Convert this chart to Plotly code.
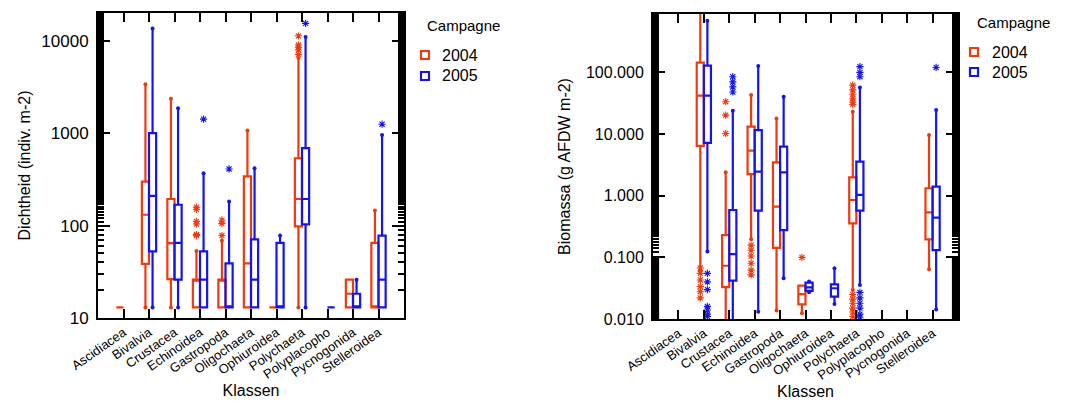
import plotly.graph_objects as go

classes = ["Ascidiacea", "Bivalvia", "Crustacea", "Echinoidea", "Gastropoda", "Oligochaeta",
           "Ophiuroidea", "Polychaeta", "Polyplacopho", "Pycnogonida", "Stelleroidea"]
years = ["2004", "2005"]
legend_title = "Campagne"

# ---- Dichtheid (indiv. m-2) ----
dens_2004_lo = [13, 13, 13, 13, 13, 13, 13, 13, None, 13, 13]
dens_2004_q1 = [13, 38.6, 26.4, 13, 13, 13, 13, 98, None, 13, 13]
dens_2004_med = [13, 131, 64.6, 26, 26, 39, 13, 194, None, 18.3, 13]
dens_2004_q3 = [13, 299, 194, 26, 26, 340, 13, 535, None, 26, 65]
dens_2004_hi = [13, 3390, 2350, 53, 69, 1065, 13, 6500, None, 26, 146]

dens_2005_lo = [None, 13, 13, 13, 13, 13, 13, 13, 13, 13, 13]
dens_2005_q1 = [None, 52.6, 26, 13, 13, 13, 13, 103, 13, 13, 13]
dens_2005_med = [None, 210, 65, 26, 13, 26, 13, 194, 13, 13, 26]
dens_2005_q3 = [None, 1000, 168, 52.6, 39, 71, 65, 687, 13, 18.3, 78]
dens_2005_hi = [None, 13600, 1860, 368, 182, 418, 78, 11000, 13, 26, 955]

dens_2004_out = {"Echinoidea": [158, 150, 111, 104, 80, 78],
                 "Gastropoda": [115, 105, 78],
                 "Polychaeta": [11300, 8980, 8500, 7930, 7110]}
dens_2005_out = {"Echinoidea": [1420], "Gastropoda": [410],
                 "Polychaeta": [15400], "Stelleroidea": [1250]}

# ---- Biomassa (g AFDW m-2) ----
bio_2004_lo = [None, 0.061, 0.008, 0.196, 0.0137, 0.0124, None, 0.0295, None, None, 0.0638]
bio_2004_q1 = [None, 6.4, 0.033, 2.24, 0.142, 0.0173, None, 0.356, None, None, 0.196]
bio_2004_med = [None, 41.9, 0.073, 5.37, 0.664, 0.0254, None, 0.851, None, None, 0.537]
bio_2004_q3 = [None, 143.6, 0.23, 13.2, 3.47, 0.0347, None, 1.98, None, None, 1.32]
bio_2004_hi = [None, 1200, 2.39, 42.9, 17.9, 0.0347, None, 23, None, None, 9.64]

bio_2005_lo = [None, 0.124, 0.008, 0.0131, 0.0457, 0.0271, 0.0175, 0.0356, None, None, 0.0143]
bio_2005_q1 = [None, 7.2, 0.042, 0.571, 0.277, 0.0285, 0.023, 0.571, None, None, 0.131]
bio_2005_med = [None, 41.9, 0.113, 2.45, 2.39, 0.0326, 0.0315, 1.03, None, None, 0.44]
bio_2005_q3 = [None, 128, 0.586, 11.6, 6.24, 0.0389, 0.0365, 3.56, None, None, 1.4]
bio_2005_hi = [None, 689, 23.9, 127, 40.3, 0.0405, 0.0664, 57, None, None, 24.5]

bio_2004_out = {"Bivalvia": [0.067, 0.055, 0.043, 0.0335, 0.0277, 0.022],
                "Crustacea": [33.4, 20.2, 10.2],
                "Echinoidea": [0.158, 0.13, 0.105, 0.08, 0.062, 0.052],
                "Oligochaeta": [0.1],
                "Polychaeta": [62, 52, 44, 38, 33, 30, 0.025, 0.021, 0.018, 0.015, 0.013, 0.011]}
bio_2005_out = {"Bivalvia": [0.055, 0.04, 0.03, 0.016, 0.014, 0.012, 0.011],
                "Crustacea": [85, 70, 58, 48],
                "Polychaeta": [124, 100, 85, 0.027, 0.022, 0.018, 0.015, 0.012, 0.0105],
                "Stelleroidea": [120]}

RED = "#EE3A0C"
BLUE = "#1414EE"
colors = {"2004": RED, "2005": BLUE}
offsets = {"2004": -0.14, "2005": 0.14}
FONT = "Liberation Sans, Arial, sans-serif"

W, H = 1065, 401


def px(x):
    return x / W


def py(y):
    return 1 - y / H


fig = go.Figure()


def add_panel(stats, outliers, xa, ya):
    for yr in years:
        lo, q1, med, q3, hi = stats[yr]
        idx = [i for i in range(len(classes)) if q1[i] is not None]
        xs = [i + offsets[yr] for i in idx]
        col = colors[yr]
        fig.add_trace(go.Box(
            x=xs, q1=[q1[i] for i in idx], median=[med[i] for i in idx],
            q3=[q3[i] for i in idx], lowerfence=[lo[i] for i in idx],
            upperfence=[hi[i] for i in idx], width=0.28, whiskerwidth=0,
            orientation="v", boxpoints=False,
            line=dict(color=col, width=2.2), fillcolor="rgba(255,255,255,0)",
            name=yr, xaxis=xa, yaxis=ya, showlegend=False, hoverinfo="skip"))
        # whisker end dots
        dx, dy = [], []
        for i in idx:
            if lo[i] < q1[i]:
                dx.append(i + offsets[yr]); dy.append(lo[i])
            if hi[i] > q3[i]:
                dx.append(i + offsets[yr]); dy.append(hi[i])
        fig.add_trace(go.Scatter(x=dx, y=dy, mode="markers", xaxis=xa, yaxis=ya,
                                 marker=dict(color=col, size=4), showlegend=False,
                                 hoverinfo="skip"))
        ox, oy = [], []
        for cls, vals in outliers[yr].items():
            i = classes.index(cls)
            for v in vals:
                ox.append(i + offsets[yr]); oy.append(v)
        fig.add_trace(go.Scatter(x=ox, y=oy, mode="markers", xaxis=xa, yaxis=ya,
                                 marker=dict(symbol="asterisk-open", size=6, color=col,
                                             line=dict(color=col, width=1.1)),
                                 showlegend=False, hoverinfo="skip"))


add_panel({"2004": (dens_2004_lo, dens_2004_q1, dens_2004_med, dens_2004_q3, dens_2004_hi),
           "2005": (dens_2005_lo, dens_2005_q1, dens_2005_med, dens_2005_q3, dens_2005_hi)},
          {"2004": dens_2004_out, "2005": dens_2005_out}, "x", "y")
add_panel({"2004": (bio_2004_lo, bio_2004_q1, bio_2004_med, bio_2004_q3, bio_2004_hi),
           "2005": (bio_2005_lo, bio_2005_q1, bio_2005_med, bio_2005_q3, bio_2005_hi)},
          {"2004": bio_2004_out, "2005": bio_2005_out}, "x2", "y2")

xaxis_common = dict(
    tickmode="array", tickvals=list(range(len(classes))), ticktext=classes,
    range=[-1, 11], tickangle=-35, ticks="inside", ticklen=9, tickwidth=2,
    tickcolor="black", showline=True, linewidth=2, linecolor="black", mirror="ticks",
    showgrid=False, zeroline=False, automargin=False,
    tickfont=dict(family=FONT, size=13, color="black"),
    title=dict(text="Klassen", font=dict(family=FONT, size=16, color="black"), standoff=4),
)
yaxis_common = dict(
    type="log", ticks="inside", ticklen=12, tickwidth=2, tickcolor="black",
    showline=True, linewidth=2, linecolor="black", mirror="ticks", showgrid=False,
    zeroline=False, ticklabelstandoff=4, automargin=False,
    minor=dict(ticks="inside", ticklen=6, tickwidth=2, tickcolor="black", showgrid=False),
)

# manual legends (title, outlined squares, labels)
annotations = []
shapes = []
legend_specs = [  # (title_x, title_y, icon_x, text_x, first_item_y, step)
    (425, 25, 420, 440, 55, 21),
    (975, 22, 969, 990, 52, 20),
]
for tx, ty, ix, txt_x, y0, step in legend_specs:
    annotations.append(dict(text=legend_title, x=px(tx), y=py(ty), xref="paper", yref="paper",
                            xanchor="left", yanchor="middle", showarrow=False,
                            font=dict(family=FONT, size=15, color="black")))
    for k, yr in enumerate(years):
        yc = y0 + k * step
        shapes.append(dict(type="rect", xref="paper", yref="paper",
                           x0=px(ix + 1), x1=px(ix + 9), y0=py(yc + 4), y1=py(yc - 4),
                           line=dict(color=colors[yr], width=2.2), fillcolor="white"))
        annotations.append(dict(text=yr, x=px(txt_x), y=py(yc), xref="paper", yref="paper",
                                xanchor="left", yanchor="middle", showarrow=False,
                                font=dict(family=FONT, size=16, color="black")))

# dense tick artefact on the biomass y axis below 0.1
shapes += [
    dict(type="rect", xref="x2 domain", yref="y2", x0=0, x1=0.02, y0=0.01, y1=0.1,
         fillcolor="black", line=dict(width=0), layer="above"),
    dict(type="rect", xref="x2 domain", yref="y2", x0=0.98, x1=1, y0=0.01, y1=0.1,
         fillcolor="black", line=dict(width=0), layer="above"),
]

fig.update_layout(
    width=W, height=H, margin=dict(l=0, r=0, t=0, b=0, autoexpand=False),
    paper_bgcolor="white", plot_bgcolor="white", showlegend=False,
    font=dict(family=FONT, color="black"),
    xaxis=dict(domain=[px(98), px(404)], anchor="y", **xaxis_common),
    xaxis2=dict(domain=[px(653), px(958)], anchor="y2", **xaxis_common),
    yaxis=dict(domain=[py(318), py(13)], anchor="x", range=[1, 4.3],
               tickvals=[10, 100, 1000, 10000], ticktext=["10", "100", "1000", "10000"],
               tickfont=dict(family=FONT, size=17, color="black"),
               title=dict(text="Dichtheid (indiv. m-2)",
                          font=dict(family=FONT, size=16, color="black"), standoff=7),
               **yaxis_common),
    yaxis2=dict(domain=[py(319), py(14)], anchor="x2", range=[-2, 2.946],
                tickvals=[0.01, 0.1, 1, 10, 100],
                ticktext=["0.010", "0.100", "1.000", "10.000", "100.000"],
                tickfont=dict(family=FONT, size=16, color="black"),
                title=dict(text="Biomassa (g AFDW m-2)",
                           font=dict(family=FONT, size=16, color="black"), standoff=11),
                **yaxis_common),
    annotations=annotations,
    shapes=shapes,
)

fig.write_html("out.html", config={"displayModeBar": False, "staticPlot": True},
               post_script="document.body.style.margin='0';document.body.style.overflow='hidden';")
